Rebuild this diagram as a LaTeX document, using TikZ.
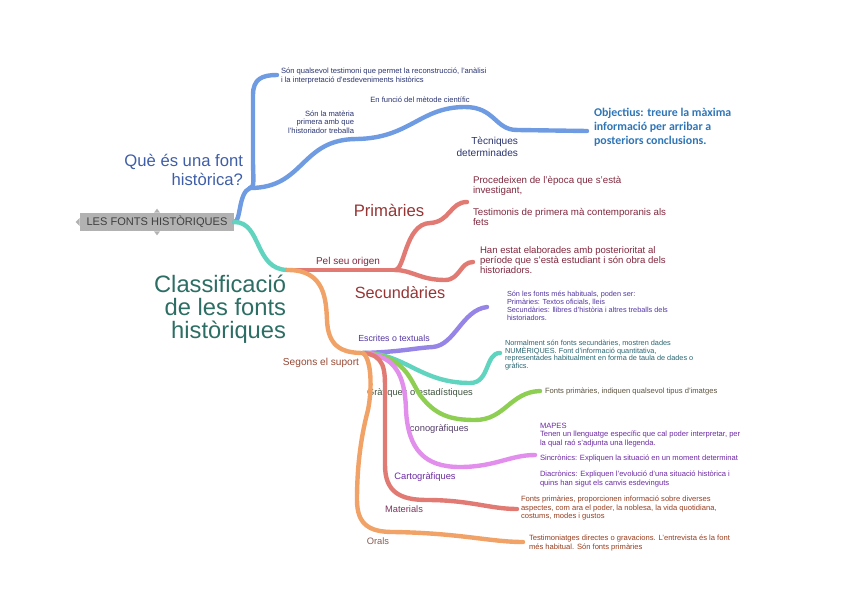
\documentclass[tikz,border=0pt]{standalone}
\usepackage{fontspec}
\setmainfont{Liberation Sans}
\newfontfamily\objfont{Carlito}
\usetikzlibrary{positioning}

\definecolor{rootgray}{RGB}{178,178,178}
\definecolor{brblue}{RGB}{111,155,226}
\definecolor{brteal}{RGB}{96,212,190}
\definecolor{brred}{RGB}{226,122,116}
\definecolor{brorange}{RGB}{241,162,102}
\definecolor{brpurple}{RGB}{150,132,230}
\definecolor{brgreen}{RGB}{142,206,82}
\definecolor{brpink}{RGB}{226,142,236}
\definecolor{txqblue}{RGB}{63,94,168}
\definecolor{txnavy}{RGB}{42,52,112}
\definecolor{txobj}{RGB}{46,117,182}
\definecolor{txred}{RGB}{150,52,52}
\definecolor{txdred}{RGB}{128,40,62}
\definecolor{txteal}{RGB}{45,110,100}
\definecolor{txbrown}{RGB}{150,72,52}
\definecolor{txpurple}{RGB}{82,52,160}
\definecolor{txdteal}{RGB}{40,100,112}
\definecolor{txgreen}{RGB}{62,82,62}
\definecolor{txolive}{RGB}{92,82,62}
\definecolor{txicon}{RGB}{82,62,102}
\definecolor{txviolet}{RGB}{108,42,162}
\definecolor{txmat}{RGB}{122,52,92}
\definecolor{txrust}{RGB}{150,62,32}
\definecolor{txoral}{RGB}{132,92,82}

\begin{document}
\begin{tikzpicture}[x=0.75pt, y=-0.75pt,
    every node/.style={inner sep=0pt, outer sep=0pt},
    br/.style={line width=3.3pt, line cap=round},
    leaf/.style={font=\fontsize{5.7pt}{6.2pt}\selectfont, align=left, anchor=west},
    lab/.style={font=\fontsize{7pt}{8pt}\selectfont},
    big/.style={font=\fontsize{12.5pt}{14pt}\selectfont}]
    \useasboundingbox (0,0) rectangle (848,599);

    % arrel
    \node[fill=rootgray, minimum width=116pt, minimum height=14pt, text=black!75,
          font=\fontsize{8.3pt}{9pt}\selectfont] (root) at (157,222) {LES FONTS HISTÒRIQUES};
    \fill[rootgray] (root.west) ++(0,-4) -- ++(-4,4) -- ++(4,4) -- cycle;
    \fill[rootgray] (root.north) ++(-3,0) -- ++(3,-4) -- ++(3,4) -- cycle;
    \fill[rootgray] (root.south) ++(-3,0) -- ++(3,4) -- ++(3,-4) -- cycle;

    % punts d'unio
    \coordinate (j1) at (250,188);
    \coordinate (j1b) at (357,139);
    \coordinate (j1c) at (517,130);
    \coordinate (j2) at (288,270);
    \coordinate (j3) at (395,270);
    \coordinate (j4) at (363,353);

    % Que es una font historica?
    \node[big, text=txqblue, align=right, anchor=east] (quees) at (243,170) {Què és una font\\històrica?};
    \node[leaf, text=txnavy] (def) at (281,76) {Són qualsevol testimoni que permet la reconstrucció, l'anàlisi\\i la interpretació d'esdeveniments històrics};
    \node[leaf, text=txnavy, align=right, anchor=east] (mat) at (354,122) {Són la matèria\\primera amb que\\l'historiador treballa};
    \node[leaf, text=txnavy, anchor=center] (metode) at (420,100) {En funció del mètode científic};
    \node[text=txnavy, align=right, anchor=east,
          font=\fontsize{7.6pt}{8.6pt}\selectfont] (tecn) at (518,147) {Tècniques\\determinades};
    \node[text=txobj, align=left, anchor=west,
          font=\objfont\bfseries\fontsize{8.9pt}{10.6pt}\selectfont] (obj) at (594,127)
          {Objectius: treure la màxima\\informació per arribar a\\posteriors conclusions.};
    \coordinate (defend) at (277,75);
    \coordinate (objend) at (587,131);

    \draw[br, brblue] (root.east) .. controls (241,222) and (238,193) .. (j1);
    \draw[br, brblue] (j1) .. controls (255,188) and (253,178) .. (253,160)
        -- (253,95) .. controls (253,79) and (262,75) .. (defend);
    \draw[br, brblue] (j1) .. controls (305,188) and (300,139) .. (j1b);
    \draw[br, brblue] (j1b) .. controls (410,138) and (420,107) .. (465,107)
        .. controls (495,107) and (495,130) .. (j1c);
    \draw[br, brblue] (j1c) -- (objend);

    % Pel seu origen
    \draw[br, brteal] (root.east) .. controls (262,222) and (254,270) .. (j2);
    \draw[br, brred] (j2) -- (j3);
    \node[lab, text=txdred, font=\fontsize{7.5pt}{8pt}\selectfont] (origen) at (348,262) {Pel seu origen};
    \node[big, text=txred] (prim) at (389,210) {Primàries};
    \node[big, text=txred, font=\fontsize{12.2pt}{14pt}\selectfont] (secund) at (400,293) {Secundàries};
    \node[leaf, text=txdred, font=\fontsize{7.3pt}{7.9pt}\selectfont] (proc) at (473,186)
        {Procedeixen de l'època que s'està\\investigant,};
    \node[leaf, text=txdred, font=\fontsize{7.3pt}{7.9pt}\selectfont] (testim) at (473,217)
        {Testimonis de primera mà contemporanis als\\fets};
    \node[leaf, text=txdred, font=\fontsize{7.2pt}{7.8pt}\selectfont] (elab) at (480,260)
        {Han estat elaborades amb posterioritat al\\període que s'està estudiant i són obra dels\\historiadors.};
    \coordinate (primend) at (467,202);
    \coordinate (secend) at (473,262);
    \draw[br, brred] (j3) .. controls (405,270) and (405,224) .. (430,223)
        .. controls (450,222) and (450,202) .. (primend);
    \draw[br, brred] (j3) .. controls (412,270) and (420,280) .. (445,280)
        .. controls (460,280) and (460,262) .. (secend);

    % Segons el suport
    \node[font=\fontsize{17.8pt}{17.4pt}\selectfont, text=txteal, align=right, anchor=east] (classif)
        at (286,309) {Classificació\\de les fonts\\històriques};
    \node[lab, text=txbrown, font=\fontsize{7.6pt}{8pt}\selectfont] (suport) at (321,363) {Segons el suport};
    \draw[br, brorange] (j2) .. controls (325,270) and (326,300) .. (327,320)
        .. controls (328,345) and (340,353) .. (j4);

    % escrites
    \node[lab, text=txpurple, font=\fontsize{6.6pt}{7.5pt}\selectfont] (escr) at (394,338) {Escrites o textuals};
    \node[leaf, text=txpurple, font=\fontsize{5.5pt}{5.9pt}\selectfont] (escrtx) at (507,306)
        {Són les fonts més habituals, poden ser:\\Primàries: Textos oficials, lleis\\Secundàries: llibres d'història i altres treballs dels\\historiadors.};
    \coordinate (escrend) at (487,307);
    \draw[br, brpurple] (j4) .. controls (400,352) and (415,348) .. (433,347)
        .. controls (455,345) and (462,310) .. (escrend);

    % grafiques
    \node[lab, text=txgreen] (graf) at (420,393) {Gràfiques o estadístiques};
    \node[leaf, text=txdteal, font=\fontsize{5.5pt}{5.9pt}\selectfont] (graftx) at (505,355)
        {Normalment són fonts secundàries, mostren dades\\NUMÈRIQUES. Font d'informació quantitativa,\\representades habitualment en forma de taula de dades o\\gràfics.};
    \coordinate (grafend) at (500,353);
    \draw[br, brteal] (j4) .. controls (405,353) and (420,383) .. (470,383)
        .. controls (490,383) and (485,353) .. (grafend);

    % iconografiques
    \node[lab, text=txicon] (icono) at (438,429) {Iconogràfiques};
    \node[leaf, text=txolive] (iconotx) at (545,391) {Fonts primàries, indiquen qualsevol tipus d'imatges};
    \coordinate (iconoend) at (540,391);
    \draw[br, brgreen] (j4) .. controls (405,355) and (410,380) .. (420,395)
        .. controls (435,415) and (450,420) .. (475,420)
        .. controls (505,420) and (510,392) .. (iconoend);

    % cartografiques
    \node[lab, text=txviolet] (carto) at (425,477) {Cartogràfiques};
    \node[leaf, text=txviolet] (mapes) at (540,435)
        {MAPES\\Tenen un llenguatge específic que cal poder interpretar, per\\la qual raó s'adjunta una llegenda.};
    \node[leaf, text=txviolet, below=6pt of mapes.south west, anchor=north west] (sincr)
        {Sincrònics: Expliquen la situació en un moment determinat};
    \node[leaf, text=txviolet, below=7pt of sincr.south west, anchor=north west] (diacr)
        {Diacrònics: Expliquen l'evolució d'una situació històrica i\\quins han sigut els canvis esdevinguts};
    \coordinate (cartoend) at (535,455);
    \draw[br, brpink] (j4) .. controls (395,355) and (405,375) .. (406,410)
        .. controls (408,450) and (425,467) .. (460,467)
        .. controls (495,467) and (510,455) .. (cartoend);

    % materials
    \node[lab, text=txmat] (mater) at (404,509) {Materials};
    \node[leaf, text=txrust] (matertx) at (521,508)
        {Fonts primàries, proporcionen informació sobre diverses\\aspectes, com ara el poder, la noblesa, la vida quotidiana,\\costums, modes i gustos};
    \coordinate (materend) at (517,509);
    \draw[br, brred] (j4) .. controls (385,355) and (385,370) .. (385,390)
        -- (385,465) .. controls (385,492) and (400,500) .. (427,500)
        .. controls (470,500) and (490,509) .. (materend);

    % orals
    \node[lab, text=txoral] (orals) at (378,541) {Orals};
    \node[leaf, text=txrust] (oralstx) at (529,543)
        {Testimoniatges directes o gravacions. L'entrevista és la font\\més habitual. Són fonts primàries};
    \coordinate (oralsend) at (523,542);
    \draw[br, brorange] (j4) .. controls (372,360) and (372,390) .. (368,410)
        .. controls (360,440) and (357,470) .. (357,500)
        .. controls (357,525) and (370,532) .. (393,532)
        .. controls (460,533) and (490,542) .. (oralsend);
\end{tikzpicture}
\end{document}
